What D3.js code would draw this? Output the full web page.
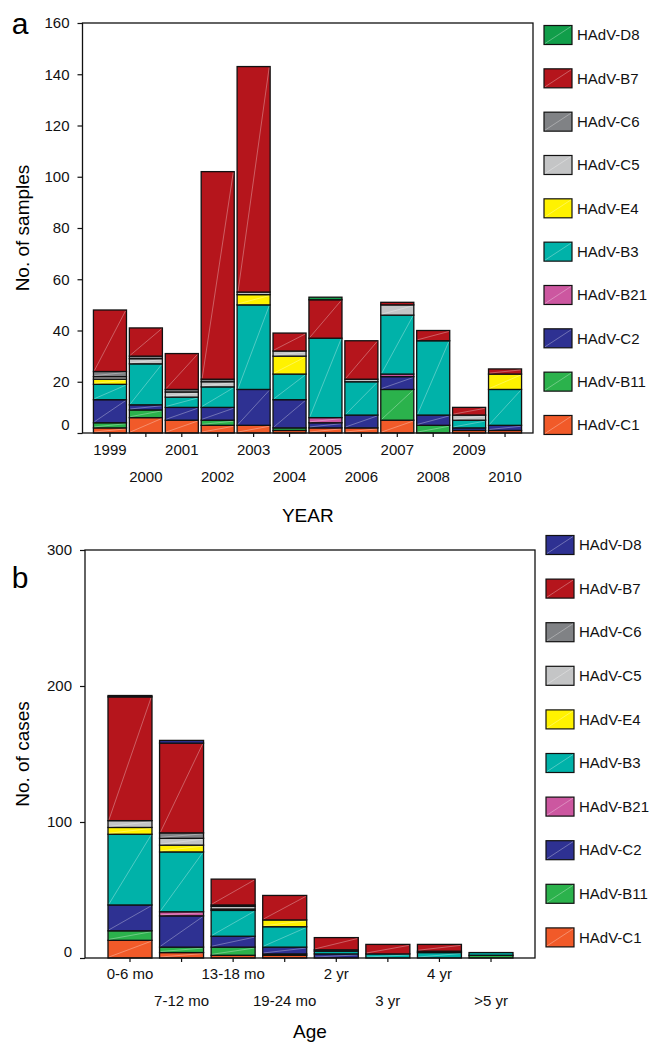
<!DOCTYPE html>
<html>
<head>
<meta charset="utf-8">
<script src="https://cdn.jsdelivr.net/npm/d3@7"></script>
<style>
    html, body { margin: 0; padding: 0; background: #ffffff; }
    svg { display: block; }
</style>
</head>
<body>
<div id="chart"></div>
<script>
(function () {
    "use strict";

    // stacking order, bottom to top
    const types = ["HAdV-C1", "HAdV-B11", "HAdV-C2", "HAdV-B21", "HAdV-B3", "HAdV-E4", "HAdV-C5", "HAdV-C6", "HAdV-B7", "HAdV-D8"];

    // panel a: samples per year
    const years = ["1999", "2000", "2001", "2002", "2003", "2004", "2005", "2006", "2007", "2008", "2009", "2010"];
    const yearC1 = [2, 6, 5, 3, 3, 1, 2, 2, 5, 0, 1, 1];
    const yearB11 = [2, 3, 0, 2, 0, 1, 0, 0, 12, 3, 0, 0];
    const yearC2 = [9, 2, 5, 5, 14, 11, 2, 5, 5, 4, 1, 2];
    const yearB21 = [0, 0, 0, 0, 0, 0, 2, 0, 1, 0, 0, 0];
    const yearB3 = [6, 16, 4, 8, 33, 10, 31, 13, 23, 29, 3, 14];
    const yearE4 = [2, 0, 0, 0, 4, 7, 0, 0, 0, 0, 0, 6];
    const yearC5 = [1, 2, 2, 2, 1, 2, 0, 1, 4, 0, 2, 0];
    const yearC6 = [2, 1, 1, 1, 0, 0, 0, 0, 0, 0, 0, 0];
    const yearB7 = [24, 11, 14, 81, 88, 7, 15, 15, 1, 4, 3, 2];
    const yearD8 = [0, 0, 0, 0, 0, 0, 1, 0, 0, 0, 0, 0];
    const yearTicks = [0, 20, 40, 60, 80, 100, 120, 140, 160];

    // panel b: cases per age group
    const ages = ["0-6 mo", "7-12 mo", "13-18 mo", "19-24 mo", "2 yr", "3 yr", "4 yr", ">5 yr"];
    const ageC1 = [13, 4, 2, 2, 0, 0, 0, 0];
    const ageB11 = [7, 4, 6, 1, 0, 0, 0, 2];
    const ageC2 = [19, 23, 8, 5, 3, 0, 0, 0];
    const ageB21 = [0, 3, 0, 0, 0, 0, 0, 0];
    const ageB3 = [52, 44, 19, 15, 2, 3, 4, 2];
    const ageE4 = [5, 5, 1, 5, 0, 0, 1, 0];
    const ageC5 = [5, 5, 2, 0, 1, 0, 0, 0];
    const ageC6 = [0, 4, 1, 0, 0, 0, 0, 0];
    const ageB7 = [91, 66, 19, 18, 9, 7, 5, 0];
    const ageD8 = [1, 2, 0, 0, 0, 0, 0, 0];
    const ageTicks = [0, 100, 200, 300];

    const baseColors = {
        "HAdV-C1": "#f15a29",
        "HAdV-B11": "#2bb24c",
        "HAdV-C2": "#2e3192",
        "HAdV-B21": "#cc57a0",
        "HAdV-B3": "#00b2a9",
        "HAdV-E4": "#fff200",
        "HAdV-C5": "#c4c5c6",
        "HAdV-C6": "#808285",
        "HAdV-B7": "#b5151c"
    };

    function buildRows(cats, series) {
        return cats.map((c, i) => {
            const row = { cat: c };
            types.forEach((t, k) => {
                row[t] = series[k][i];
            });
            return row;
        });
    }

    const svg = d3.select("#chart")
        .append("svg")
        .attr("width", 651)
        .attr("height", 1044)
        .style("font-family", "'Liberation Sans', Arial, Helvetica, sans-serif");

    function drawPanel(p) {
        const g = svg.append("g");
        const rows = buildRows(p.cats, p.series);
        const color = (t) => (t === "HAdV-D8" ? p.d8Color : baseColors[t]);

        const x = d3.scaleBand()
            .domain(p.cats)
            .range([p.bandStart, p.bandEnd])
            .paddingInner(p.padding)
            .paddingOuter(p.padding / 2);

        const y = d3.scaleLinear()
            .domain([0, p.yMax])
            .range([p.bottom, p.top]);

        const stacked = d3.stack().keys(types)(rows);

        // bars
        const layer = g.append("g")
            .selectAll("g")
            .data(stacked)
            .join("g")
            .attr("fill", (s) => color(s.key));

        const segs = layer.selectAll("g")
            .data((s) => s.filter((d) => d[1] > d[0]))
            .join("g");

        segs.append("rect")
            .attr("x", (d) => x(d.data.cat))
            .attr("width", x.bandwidth())
            .attr("y", (d) => y(d[1]))
            .attr("height", (d) => y(d[0]) - y(d[1]))
            .attr("stroke", "#111")
            .attr("stroke-width", 1.3);

        // faint diagonal highlight seen in the original artwork
        segs.filter((d) => y(d[0]) - y(d[1]) > 4)
            .append("line")
            .attr("x1", (d) => x(d.data.cat) + 1)
            .attr("y1", (d) => y(d[0]) - 1)
            .attr("x2", (d) => x(d.data.cat) + x.bandwidth() - 1)
            .attr("y2", (d) => y(d[1]) + 1)
            .attr("stroke", "#ffffff")
            .attr("stroke-opacity", 0.45)
            .attr("stroke-width", 0.7);

        // frame
        g.append("rect")
            .attr("x", p.left)
            .attr("y", p.top)
            .attr("width", p.right - p.left)
            .attr("height", p.bottom - p.top)
            .attr("fill", "none")
            .attr("stroke", "#111")
            .attr("stroke-width", 1.3);

        // y axis
        const yAxis = g.append("g")
            .attr("transform", `translate(${p.left},0)`)
            .call(d3.axisLeft(y).tickValues(p.yTicks).tickSize(5).tickPadding(p.yPad));
        yAxis.select(".domain").remove();
        yAxis.selectAll("line").attr("stroke", "#111").attr("stroke-width", 1.2);
        yAxis.selectAll("text")
            .style("font-size", "15px")
            .attr("fill", "#111")
            .filter((d) => d === 0)
            .attr("transform", `translate(0,${p.zeroShift})`);

        // x axis, labels in two staggered rows
        const xAxis = g.append("g")
            .attr("transform", `translate(0,${p.bottom})`)
            .call(d3.axisBottom(x).tickSize(4));
        xAxis.select(".domain").remove();
        xAxis.selectAll("line").attr("stroke", "#111").attr("stroke-width", 1.2);
        xAxis.selectAll("text")
            .style("font-size", "15px")
            .attr("fill", "#111")
            .attr("y", (d, i) => (i % 2 === 0 ? p.row1 : p.row2));

        // titles
        g.append("text")
            .attr("x", (p.left + p.right) / 2)
            .attr("y", p.xTitleY)
            .attr("text-anchor", "middle")
            .style("font-size", "19px")
            .text(p.xTitle);

        g.append("text")
            .attr("transform", `translate(28.5,${(p.top + p.bottom) / 2}) rotate(-90)`)
            .attr("text-anchor", "middle")
            .style("font-size", "19px")
            .text(p.yTitle);

        g.append("text")
            .attr("x", 20)
            .attr("y", p.letterY)
            .attr("text-anchor", "middle")
            .style("font-size", "30px")
            .text(p.letter);

        // legend, top of stack first
        const legend = g.append("g")
            .selectAll("g")
            .data(types.slice().reverse())
            .join("g")
            .attr("transform", (d, i) => `translate(${p.legendX},${p.legendY0 + i * p.legendStep})`);

        legend.append("rect")
            .attr("x", 0)
            .attr("y", -9.5)
            .attr("width", 28)
            .attr("height", 19)
            .attr("fill", (d) => color(d))
            .attr("stroke", "#111")
            .attr("stroke-width", 1.2);

        legend.append("line")
            .attr("x1", 1)
            .attr("y1", 8.5)
            .attr("x2", 27)
            .attr("y2", -8.5)
            .attr("stroke", "#ffffff")
            .attr("stroke-opacity", 0.45)
            .attr("stroke-width", 0.7);

        legend.append("text")
            .attr("x", 33)
            .attr("dy", "0.35em")
            .style("font-size", "15px")
            .attr("fill", "#111")
            .text((d) => d);
    }

    drawPanel({
        letter: "a",
        letterY: 34,
        cats: years,
        series: [yearC1, yearB11, yearC2, yearB21, yearB3, yearE4, yearC5, yearC6, yearB7, yearD8],
        d8Color: "#119e4a",
        left: 82.5,
        right: 533,
        top: 23,
        bottom: 433,
        bandStart: 92,
        bandEnd: 523,
        padding: 0.08,
        yMax: 160,
        yTicks: yearTicks,
        yPad: 8,
        zeroShift: -8,
        row1: 11.5,
        row2: 38.5,
        xTitle: "YEAR",
        xTitleY: 522,
        yTitle: "No. of samples",
        legendX: 544,
        legendY0: 35,
        legendStep: 43.33
    });

    drawPanel({
        letter: "b",
        letterY: 588,
        cats: ages,
        series: [ageC1, ageB11, ageC2, ageB21, ageB3, ageE4, ageC5, ageC6, ageB7, ageD8],
        d8Color: "#2e3192",
        left: 85,
        right: 535,
        top: 550,
        bottom: 958,
        bandStart: 104.2,
        bandEnd: 516.8,
        padding: 0.147,
        yMax: 300,
        yTicks: ageTicks,
        yPad: 8,
        zeroShift: -6,
        row1: 10.5,
        row2: 37.5,
        xTitle: "Age",
        xTitleY: 1038,
        yTitle: "No. of cases",
        legendX: 546,
        legendY0: 545,
        legendStep: 43.6
    });
})();
</script>
</body>
</html>
